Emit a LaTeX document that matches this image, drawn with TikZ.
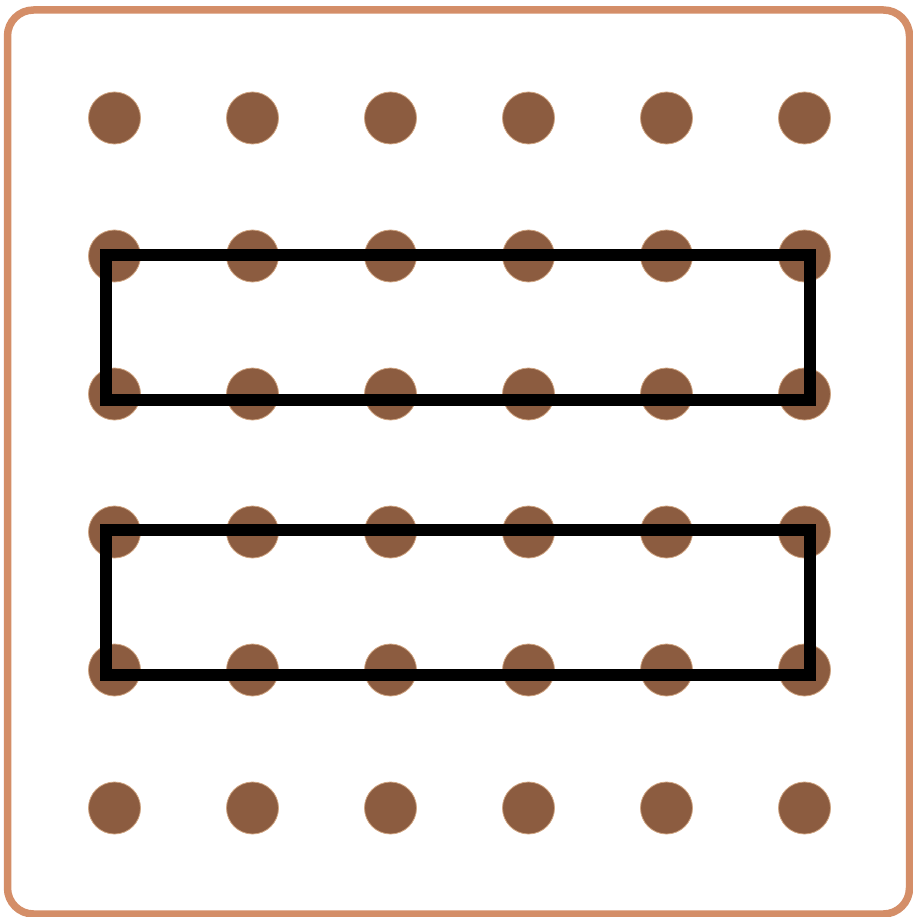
\documentclass[tikz,border=0pt]{standalone}
\definecolor{boardedge}{RGB}{212,142,104}
\definecolor{pad}{RGB}{140,92,64}
\tikzset{
  padstyle/.style={circle, fill=pad, draw=pad!70!orange!60!white, line width=0.8pt, minimum size=52pt, inner sep=0pt},
  framebox/.style={draw=black, line width=12pt, line join=miter},
  boardstyle/.style={draw=boardedge, line width=7.5pt, rounded corners=26pt}
}
\begin{document}
\begin{tikzpicture}[x=1pt,y=-1pt]
\useasboundingbox (0,0) rectangle (912,917);
\fill[white] (0,0) rectangle (912,917);
\draw[boardstyle] (7.5,10) rectangle (909.5,914);
\foreach \i in {0,...,5}{
  \foreach \j in {0,...,5}{
    \node[padstyle] (p\i\j) at (114.5+138*\i, 118+138*\j) {};
  }
}
\draw[framebox] (106,255) rectangle (809.5,399.5);
\draw[framebox] (106,530) rectangle (809.5,675);
\end{tikzpicture}
\end{document}
